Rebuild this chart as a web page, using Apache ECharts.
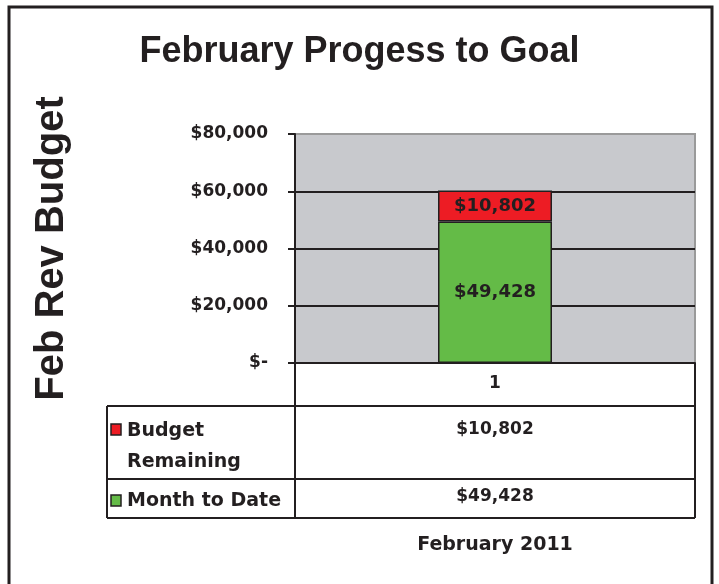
<!DOCTYPE html>
<html>
<head>
<meta charset="utf-8">
<script src="https://cdn.jsdelivr.net/npm/echarts@6/dist/echarts.min.js"></script>
<style>
html, body { margin: 0; padding: 0; background: #fff; }
#main { width: 719px; height: 584px; }
</style>
</head>
<body>
<div id="main"></div>
<script>
// data
var categories = ['1'];
var seriesNames = ['Budget Remaining', 'Month to Date'];
var budgetRemaining = [10802];
var monthToDate = [49428];
var yTicks = [0, 20000, 40000, 60000, 80000];
var periodLabel = 'February 2011';

var ink = '#231f20', font = 'Liberation Sans, Arial, sans-serif', wide = 'DejaVu Sans, sans-serif';
var red = '#ed1c24', green = '#64bb47';
// plot area in pixels
var gl = 295, gt = 134, gw = 400, gh = 229;
var tblLeft = 107, rowCat = 406, row1 = 479, row2 = 518;

function money(v) {
	return v === 0 ? '$-' : '$' + v.toLocaleString('en-US');
}

var chart = echarts.init(document.getElementById('main'));

// data table below the axis
var midX = gl + gw / 2;
var lineStyle = { stroke: ink, lineWidth: 2 };
var cellFont = 'bold 17px ' + wide, keyFont = 'bold 19px ' + wide;
var table = [
	{ type: 'line', shape: { x1: tblLeft, y1: rowCat, x2: gl + gw, y2: rowCat }, style: lineStyle },
	{ type: 'line', shape: { x1: tblLeft, y1: row1, x2: gl + gw, y2: row1 }, style: lineStyle },
	{ type: 'line', shape: { x1: tblLeft, y1: row2, x2: gl + gw, y2: row2 }, style: lineStyle },
	{ type: 'line', shape: { x1: tblLeft, y1: rowCat, x2: tblLeft, y2: row2 }, style: lineStyle },
	{ type: 'line', shape: { x1: gl, y1: gt + gh, x2: gl, y2: row2 }, style: lineStyle },
	{ type: 'line', shape: { x1: gl + gw, y1: gt + gh, x2: gl + gw, y2: row2 }, style: lineStyle },
	// legend keys
	{ type: 'rect', shape: { x: 111, y: 424, width: 10, height: 11 }, style: { fill: red, stroke: ink, lineWidth: 1.5 } },
	{ type: 'rect', shape: { x: 111, y: 495, width: 10, height: 11 }, style: { fill: green, stroke: ink, lineWidth: 1.5 } },
	{ type: 'text', x: 127, y: 431, style: { text: 'Budget', font: keyFont, fill: ink, verticalAlign: 'middle' } },
	{ type: 'text', x: 127, y: 462, style: { text: 'Remaining', font: keyFont, fill: ink, verticalAlign: 'middle' } },
	{ type: 'text', x: 127, y: 501, style: { text: seriesNames[1], font: keyFont, fill: ink, verticalAlign: 'middle' } },
	{ type: 'text', x: midX, y: 430, style: { text: money(budgetRemaining[0]), font: cellFont, fill: ink, align: 'center', verticalAlign: 'middle' } },
	{ type: 'text', x: midX, y: 497, style: { text: money(monthToDate[0]), font: cellFont, fill: ink, align: 'center', verticalAlign: 'middle' } },
	{ type: 'text', x: midX, y: 545, style: { text: periodLabel, font: 'bold 19px ' + wide, fill: ink, align: 'center', verticalAlign: 'middle' } },
	// outer frame
	{ type: 'rect', shape: { x: 9, y: 7, width: 703, height: 620 }, style: { fill: 'none', stroke: ink, lineWidth: 3 } }
];

chart.setOption({
	animation: false,
	title: {
		text: 'February Progess to Goal',
		left: 'center', top: 29,
		textStyle: { fontFamily: font, fontWeight: 'bold', fontSize: 36, color: ink }
	},
	grid: {
		left: gl, top: gt, width: gw, height: gh,
		show: true, backgroundColor: '#c8c9cd', borderColor: '#9a9a9a', borderWidth: 2
	},
	xAxis: {
		type: 'category', data: categories,
		axisLine: { lineStyle: { color: ink, width: 2 } },
		axisTick: { show: false },
		axisLabel: { margin: 12, color: ink, fontFamily: wide, fontWeight: 'bold', fontSize: 17 }
	},
	yAxis: {
		type: 'value', min: yTicks[0], max: yTicks[yTicks.length - 1], interval: yTicks[1] - yTicks[0],
		name: 'Feb Rev Budget', nameLocation: 'middle', nameGap: 223,
		nameTextStyle: { fontFamily: font, fontWeight: 'bold', fontSize: 40, color: ink },
		axisLine: { show: true, lineStyle: { color: ink, width: 2 } },
		axisTick: { show: true, length: 7, lineStyle: { color: ink, width: 2 } },
		axisLabel: { margin: 27, color: ink, fontFamily: wide, fontWeight: 'bold', fontSize: 17, formatter: money },
		splitLine: { show: true, showMaxLine: false, lineStyle: { color: ink, width: 2 } }
	},
	series: [{
		name: seriesNames[1], type: 'bar', stack: 'total', data: monthToDate, barWidth: 114,
		itemStyle: { color: green, borderColor: ink, borderWidth: 1.5 },
		label: { show: true, position: 'inside', formatter: function(p) { return money(p.value); }, color: ink, fontFamily: wide, fontWeight: 'bold', fontSize: 18 }
	}, {
		name: seriesNames[0], type: 'bar', stack: 'total', data: budgetRemaining, barWidth: 114,
		itemStyle: { color: red, borderColor: ink, borderWidth: 1.5 },
		label: { show: true, position: 'inside', formatter: function(p) { return money(p.value); }, color: ink, fontFamily: wide, fontWeight: 'bold', fontSize: 18 }
	}],
	graphic: table
});
</script>
</body>
</html>
